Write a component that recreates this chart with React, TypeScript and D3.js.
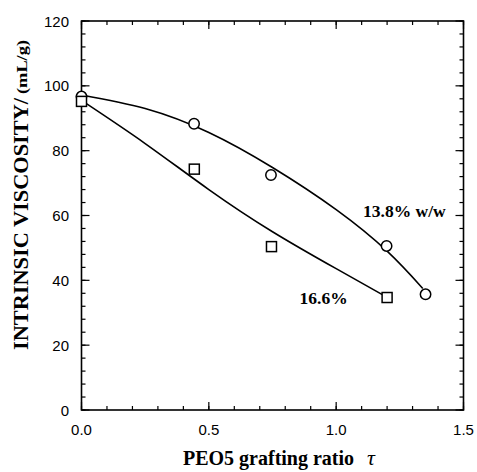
import React from "react";
import * as d3 from "d3";

// ---- data ----
const circleX = [0, 0.442, 0.744, 1.198, 1.351];
const circleY = [96.7, 88.3, 72.5, 50.6, 35.7];
const squareX = [0, 0.443, 0.746, 1.2];
const squareY = [95.2, 74.3, 50.4, 34.7];

// fitted curves (as drawn in the figure)
const upperCurveX = [0, 0.25, 0.5, 0.75, 1.0, 1.2, 1.34];
const upperCurveY = [97.2, 93.0, 85.6, 74.8, 61.8, 49.0, 37.5];
const lowerCurveX = [0, 0.25, 0.5, 0.75, 1.0, 1.19];
const lowerCurveY = [95.5, 82.2, 68, 55, 43.6, 35.2];

const xTicks = [0, 0.5, 1.0, 1.5];
const xTickLabels = ["0.0", "0.5", "1.0", "1.5"];
const yTicks = [0, 20, 40, 60, 80, 100, 120];
const yTickLabels = ["0", "20", "40", "60", "80", "100", "120"];

const labelUpper = "13.8% w/w";
const labelLower = "16.6%";
const xTitle = "PEO5 grafting ratio";
const xTitleSym = "τ";
const yTitleMain = "INTRINSIC VISCOSITY/";
const yTitleUnit = "(mL/g)";

const W = 477;
const H = 472;
const L = 81.5, R = 463.5, T = 21, B = 410;

export default function App() {
  const x = d3.scaleLinear().domain([0, 1.5]).range([L, R]);
  const y = d3.scaleLinear().domain([0, 120]).range([B, T]);

  const line = d3
    .line<[number, number]>()
    .x((d) => x(d[0]))
    .y((d) => y(d[1]))
    .curve(d3.curveNatural);

  const upper = line(upperCurveX.map((v, i) => [v, upperCurveY[i]] as [number, number])) || "";
  const lower = line(lowerCurveX.map((v, i) => [v, lowerCurveY[i]] as [number, number])) || "";

  const xMinor = d3.range(0, 1.5001, 0.1);
  const yMinor = d3.range(0, 120.001, 4);

  const serif = "'Liberation Serif', 'Times New Roman', serif";
  const sans = "'Liberation Sans', Arial, sans-serif";

  return (
    <svg width={W} height={H} style={{ position: "absolute", left: 0, top: 0, background: "#fff" }}>
      {/* minor ticks */}
      <g stroke="#000" strokeWidth={1.2}>
        {xMinor.map((v, i) => (
          <g key={"xm" + i}>
            <line x1={x(v)} x2={x(v)} y1={B} y2={B - 4} />
            <line x1={x(v)} x2={x(v)} y1={T} y2={T + 4} />
          </g>
        ))}
        {yMinor.map((v, i) => (
          <g key={"ym" + i}>
            <line x1={L} x2={L + 4} y1={y(v)} y2={y(v)} />
            <line x1={R} x2={R - 4} y1={y(v)} y2={y(v)} />
          </g>
        ))}
        {xTicks.map((v, i) => (
          <g key={"xM" + i}>
            <line x1={x(v)} x2={x(v)} y1={B} y2={B - 8} />
            <line x1={x(v)} x2={x(v)} y1={T} y2={T + 8} />
          </g>
        ))}
        {yTicks.map((v, i) => (
          <g key={"yM" + i}>
            <line x1={L} x2={L + 8} y1={y(v)} y2={y(v)} />
            <line x1={R} x2={R - 8} y1={y(v)} y2={y(v)} />
          </g>
        ))}
      </g>
      {/* frame */}
      <rect x={L} y={T} width={R - L} height={B - T} fill="none" stroke="#000" strokeWidth={1.6} />

      {/* tick labels */}
      <g fontFamily={sans} fontSize={15} fill="#000">
        {xTicks.map((v, i) => (
          <text key={"xl" + i} x={x(v)} y={435} textAnchor="middle">
            {xTickLabels[i]}
          </text>
        ))}
        {yTicks.map((v, i) => (
          <text key={"yl" + i} x={69} y={y(v) + 5.5} textAnchor="end">
            {yTickLabels[i]}
          </text>
        ))}
      </g>

      {/* curves */}
      <path d={upper} fill="none" stroke="#000" strokeWidth={1.6} />
      <path d={lower} fill="none" stroke="#000" strokeWidth={1.6} />

      {/* markers */}
      {circleX.map((v, i) => (
        <circle key={"c" + i} cx={x(v)} cy={y(circleY[i])} r={5.2} fill="#fff" stroke="#000" strokeWidth={1.5} />
      ))}
      {squareX.map((v, i) => (
        <rect key={"s" + i} x={x(v) - 5} y={y(squareY[i]) - 5} width={10} height={10} fill="#fff" stroke="#000" strokeWidth={1.5} />
      ))}

      {/* series labels */}
      <text x={363} y={216.5} fontFamily={serif} fontWeight="bold" fontSize={17.5}>
        {labelUpper}
      </text>
      <text x={299.5} y={304} fontFamily={serif} fontWeight="bold" fontSize={17.5}>
        {labelLower}
      </text>

      {/* x title */}
      <text x={183} y={465} fontFamily={serif} fontWeight="bold" fontSize={20}>
        {xTitle}
        <tspan dx={13} fontStyle="italic" fontWeight="normal" fontSize={22}>
          {xTitleSym}
        </tspan>
      </text>

      {/* y title */}
      <g transform={`translate(28, 350) rotate(-90)`}>
        <text x={0} y={0} fontFamily={serif} fontWeight="bold" fontSize={22}>
          <tspan textLength={252} lengthAdjust="spacingAndGlyphs">{yTitleMain}</tspan>
        </text>
        <text x={256} y={-1} fontFamily={serif} fontWeight="bold" fontSize={14} textLength={54} lengthAdjust="spacingAndGlyphs">
          {yTitleUnit}
        </text>
      </g>
    </svg>
  );
}
